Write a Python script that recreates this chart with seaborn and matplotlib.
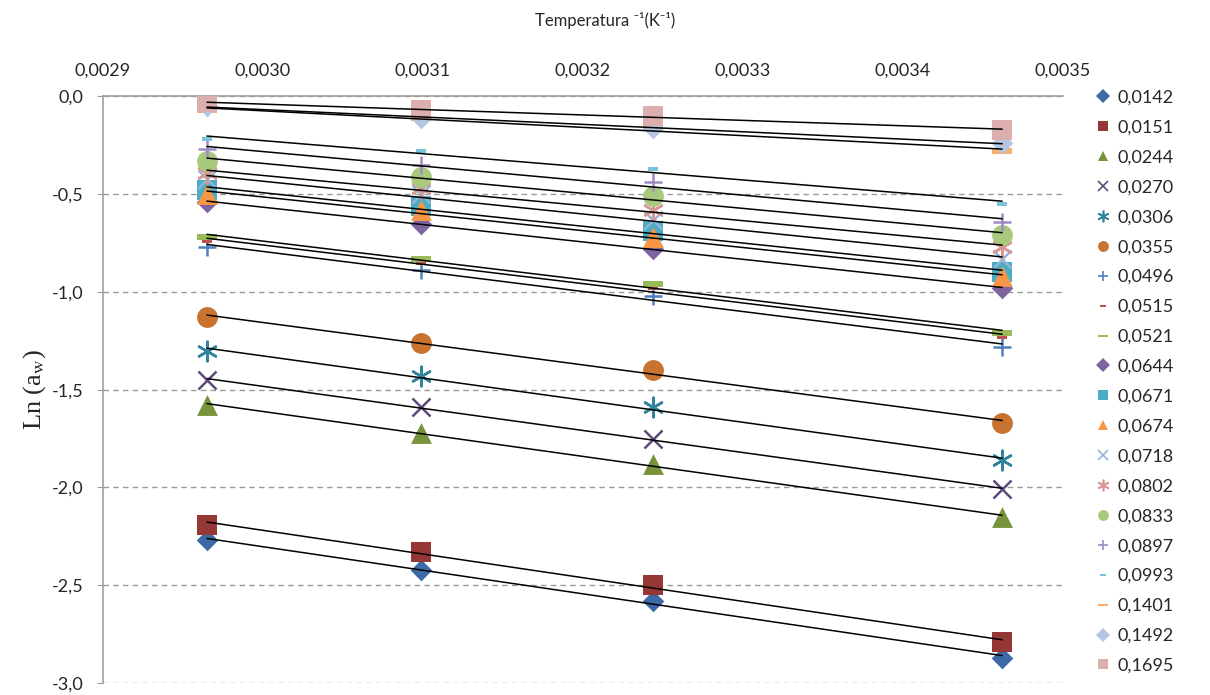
import matplotlib
matplotlib.use("agg")
import matplotlib.pyplot as plt
import matplotlib.ticker as mticker
from matplotlib.lines import Line2D
import seaborn as sns
import numpy as np

# inverse temperature (1/K) of the four isotherms
inv_temp = [0.002965, 0.003099, 0.003244, 0.003462]

# moisture content labels (legend)
labels = ["0,0142", "0,0151", "0,0244", "0,0270", "0,0306", "0,0355", "0,0496",
          "0,0515", "0,0521", "0,0644", "0,0671", "0,0674", "0,0718", "0,0802",
          "0,0833", "0,0897", "0,0993", "0,1401", "0,1492", "0,1695"]

# ln(aw) at each temperature, one list per moisture content
m0142 = [-2.27, -2.42, -2.58, -2.87]
m0151 = [-2.19, -2.33, -2.50, -2.79]
m0244 = [-1.58, -1.72, -1.88, -2.15]
m0270 = [-1.45, -1.59, -1.75, -2.01]
m0306 = [-1.30, -1.43, -1.59, -1.86]
m0355 = [-1.13, -1.26, -1.40, -1.67]
m0496 = [-0.77, -0.89, -1.02, -1.28]
m0515 = [-0.74, -0.85, -0.98, -1.23]
m0521 = [-0.72, -0.83, -0.96, -1.21]
m0644 = [-0.54, -0.65, -0.78, -0.98]
m0671 = [-0.48, -0.56, -0.69, -0.90]
m0674 = [-0.50, -0.58, -0.72, -0.92]
m0718 = [-0.42, -0.50, -0.63, -0.83]
m0802 = [-0.39, -0.47, -0.58, -0.77]
m0833 = [-0.33, -0.41, -0.51, -0.71]
m0897 = [-0.27, -0.35, -0.44, -0.64]
m0993 = [-0.22, -0.28, -0.37, -0.55]
m1401 = [-0.07, -0.11, -0.16, -0.28]
m1492 = [-0.05, -0.11, -0.16, -0.24]
m1695 = [-0.03, -0.07, -0.10, -0.17]

series = [m0142, m0151, m0244, m0270, m0306, m0355, m0496, m0515, m0521, m0644,
          m0671, m0674, m0718, m0802, m0833, m0897, m0993, m1401, m1492, m1695]

colors = ["#3C6AA6", "#953735", "#77933C", "#604A7B", "#31849B", "#C8732F",
          "#4F81BD", "#C0504D", "#9BBB59", "#8064A2", "#4BACC6", "#F79646",
          "#95B3D7", "#D99694", "#A9C97D", "#A08AC4", "#78C4DC", "#F9AE72",
          "#B4C6E2", "#DDAEAE"]

star = (6, 2, 0)
long_dash = [(-1, -0.28), (1, -0.28), (1, 0.28), (-1, 0.28), (-1, -0.28)]
short_dash = [(-1, -0.45), (1, -0.45), (1, 0.45), (-1, 0.45), (-1, -0.45)]
markers = ["D", "s", "^", "x", star, "o", "+", short_dash, long_dash, "D",
           "s", "^", "x", star, "o", "+", short_dash, long_dash, "D", "s"]
# marker size in points
msize = [11, 14, 15, 13, 14, 15, 13, 7.5, 14, 11,
         14, 15, 13, 14, 15, 13, 7.5, 14, 11, 14]

sns.set_style("white")
plt.rcParams["font.family"] = ["Lato", "DejaVu Sans"]
plt.rcParams["mathtext.fontset"] = "stix"

fig = plt.figure(figsize=(12.1, 6.95), dpi=100)
ax = fig.add_axes([0.0851, 0.0173, 0.7934, 0.8439])

handles = []
for ys, lab, c, m, ms in zip(series, labels, colors, markers, msize):
    filled = m not in ("x", "+", star)
    kw = dict(edgecolor=c, linewidth=0) if filled else dict(linewidth=1.8)
    sns.scatterplot(x=inv_temp, y=ys, marker=m, color=c, s=ms ** 2, ax=ax,
                    zorder=3, **kw)
    sns.regplot(x=np.array(inv_temp), y=np.array(ys), scatter=False, ci=None,
                ax=ax, color="black", line_kws=dict(lw=1.1, zorder=4))
    if filled:
        h = Line2D([], [], ls="none", marker=m, color=c, markeredgewidth=0,
                   markersize=ms * (0.62 if m == "D" else 0.52))
    else:
        h = Line2D([], [], ls="none", marker=m, color=c, markeredgewidth=1.2,
                   markersize=ms * 0.6)
    handles.append(h)

ax.set_xlim(0.0029, 0.0035)
ax.set_ylim(-3.0, 0.0)
ax.xaxis.tick_top()
ax.set_xticks(np.arange(0.0029, 0.00351, 0.0001))
ax.set_yticks(np.arange(-3.0, 0.01, 0.5))
ax.xaxis.set_major_formatter(mticker.FuncFormatter(lambda v, p: f"{v:.4f}".replace(".", ",")))
ax.yaxis.set_major_formatter(mticker.FuncFormatter(lambda v, p: f"{v:.1f}".replace(".", ",")))
ax.tick_params(axis="x", length=0, pad=13, labelsize=13)
ax.tick_params(axis="y", length=4, color="#9a9a9a", pad=10, labelsize=13, left=True)

ax.grid(axis="y", ls=(0, (4, 3)), color="#9a9a9a", lw=1)
ax.grid(axis="x", visible=False)
for side in ["right", "bottom"]:
    ax.spines[side].set_visible(False)
for side in ["top", "left"]:
    ax.spines[side].set_color("#a0a0a0")
    ax.spines[side].set_linewidth(1.2)

ax.set_ylabel("Ln (a$_\\mathrm{w}$)", family="Liberation Serif", fontsize=19, labelpad=3)
fig.text(0.5, 0.971, "Temperatura \u207b\u00b9(K\u207b\u00b9)", ha="center", va="center",
         fontsize=12, family=["Lato", "DejaVu Sans"])

ax.legend(handles, labels, loc="upper left", bbox_to_anchor=(0.906, 0.871),
          bbox_transform=fig.transFigure, frameon=False, fontsize=13,
          handlelength=0.8, handletextpad=0.4, labelspacing=0.77,
          borderpad=0, borderaxespad=0)

plt.savefig("out.png", dpi=100)
